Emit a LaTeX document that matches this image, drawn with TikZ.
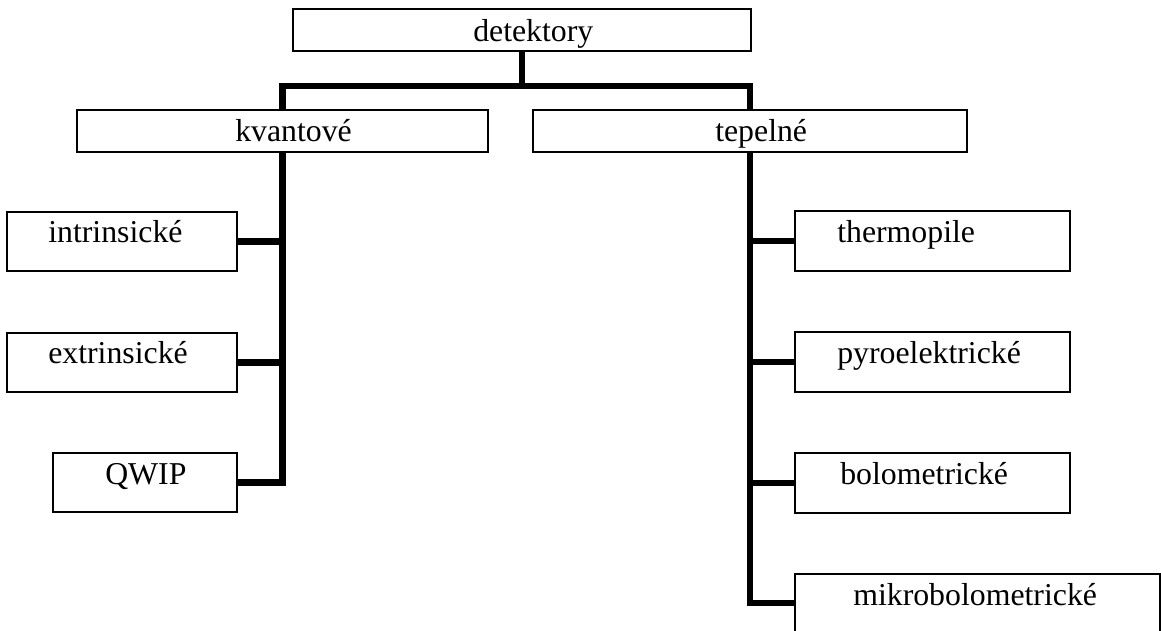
\documentclass[tikz,border=0pt]{standalone}
\usepackage{fontspec}
\setmainfont{Liberation Serif}
\begin{document}
\begin{tikzpicture}[x=0.75pt,y=-0.75pt,
  bx/.style 2 args={draw,line width=1.1pt,fill=white,inner sep=0pt,outer sep=0pt,
    anchor=north west,minimum width={#1*0.75pt},minimum height={#2*0.75pt}},
  lbl/.style={anchor=base west,inner sep=0pt,font=\fontsize{23.85}{28}\selectfont},
  conn/.style={line width=4.6pt,line join=miter}]
\useasboundingbox (0,0) rectangle (1161,631);
% boxes
\node[bx={458}{42}] (det) at (293,9) {};
\node[bx={411}{42}] (kv) at (77,110) {};
\node[bx={434}{42}] (tep) at (533,110) {};
\node[bx={230}{59}] (intr) at (7,212) {};
\node[bx={230}{59}] (extr) at (7,333) {};
\node[bx={184}{59}] (qwip) at (53,453) {};
\node[bx={275}{60}] (therm) at (795,211) {};
\node[bx={275}{60}] (pyro) at (795,332) {};
\node[bx={275}{60}] (bolo) at (795,453) {};
\node[bx={365}{58}] (mikro) at (795,574) {};
% labels
\node[lbl] (det-t) at (473,42) {detektory};
\node[lbl] (kv-t) at (235,142) {kvantové};
\node[lbl] (tep-t) at (715,142) {tepelné};
\node[lbl] (intr-t) at (48,243) {intrinsické};
\node[lbl] (extr-t) at (48,363) {extrinsické};
\node[lbl] (qwip-t) at (105,484) {QWIP};
\node[lbl] (therm-t) at (837,243) {thermopile};
\node[lbl] (pyro-t) at (837,363) {pyroelektrické};
\node[lbl] (bolo-t) at (840,484) {bolometrické};
\node[lbl] (mikro-t) at (853,605) {mikrobolometrické};
% connectors
\coordinate (jn) at (522,86);
\draw[conn] (det.south) -- (jn);
\draw[conn] (jn) -| (kv.north);
\draw[conn] (jn) -| (tep.north);
\draw[conn] (kv.south) |- (intr.east);
\draw[conn] (kv.south) |- (extr.east);
\draw[conn] (kv.south) |- (qwip.east);
\draw[conn] (tep.south) |- (therm.west);
\draw[conn] (tep.south) |- (pyro.west);
\draw[conn] (tep.south) |- (bolo.west);
\draw[conn] (tep.south) |- (mikro.west);
\end{tikzpicture}
\end{document}
